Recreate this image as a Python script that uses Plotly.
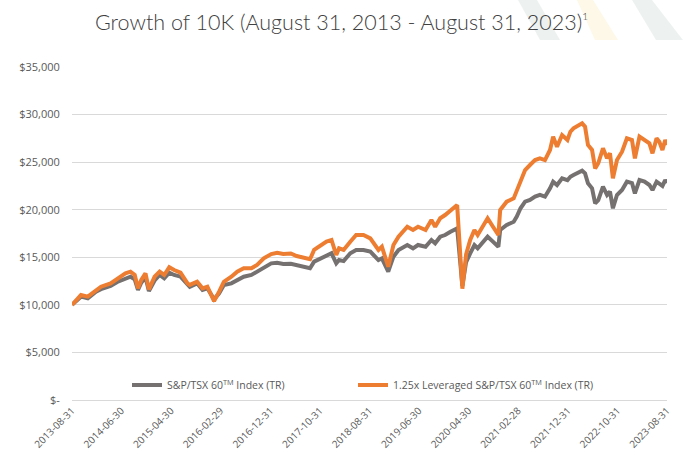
import plotly.graph_objects as go

# ---- data ----
dates = [
    "2013-08-31", "2013-10-25", "2013-12-06", "2014-01-25", "2014-02-25", "2014-04-25",
    "2014-06-05", "2014-07-25", "2014-08-25", "2014-09-20", "2014-10-10", "2014-10-30",
    "2014-11-25", "2014-12-16", "2015-01-20", "2015-02-20", "2015-03-20", "2015-04-20",
    "2015-05-20", "2015-06-28", "2015-08-10", "2015-08-24", "2015-10-08", "2015-11-10",
    "2015-12-10", "2016-01-20", "2016-02-20", "2016-03-20", "2016-05-05", "2016-06-10",
    "2016-07-20", "2016-09-05", "2016-10-10", "2016-11-20", "2017-01-05", "2017-02-10",
    "2017-03-20", "2017-05-05", "2017-06-10", "2017-07-25", "2017-08-31", "2017-09-25",
    "2017-11-05", "2017-12-10", "2018-01-10", "2018-02-08", "2018-02-25", "2018-03-25",
    "2018-05-05", "2018-06-10", "2018-07-25", "2018-09-05", "2018-10-25", "2018-11-15",
    "2018-12-24", "2019-01-25", "2019-02-25", "2019-04-20", "2019-05-25", "2019-06-25",
    "2019-08-10", "2019-09-15", "2019-10-08", "2019-11-08", "2019-12-08", "2020-01-10",
    "2020-02-20", "2020-03-23", "2020-04-15", "2020-05-10", "2020-06-05", "2020-06-25",
    "2020-08-25", "2020-09-20", "2020-10-30", "2020-11-10", "2020-12-20", "2021-02-01",
    "2021-02-20", "2021-03-15", "2021-04-12", "2021-05-12", "2021-06-12", "2021-07-12",
    "2021-08-12", "2021-09-12", "2021-10-01", "2021-10-25", "2021-11-25", "2021-12-28",
    "2022-01-15", "2022-02-03", "2022-03-28", "2022-04-15", "2022-05-03", "2022-05-28",
    "2022-06-16", "2022-07-05", "2022-08-03", "2022-08-28", "2022-09-15", "2022-10-03",
    "2022-10-28", "2022-11-28", "2022-12-28", "2023-01-28", "2023-02-15", "2023-03-15",
    "2023-04-15", "2023-05-15", "2023-06-03", "2023-06-28", "2023-07-15", "2023-08-03",
    "2023-08-20", "2023-08-31",
]

index_tr = [
    10000, 10860, 10680, 11390, 11650, 12000,
    12400, 12790, 12960, 12680, 11560, 12330,
    12900, 11460, 12560, 13140, 12790, 13380,
    13140, 12960, 12090, 11900, 12260, 11560,
    11740, 10580, 11210, 12090, 12260, 12610,
    12960, 13140, 13490, 14010, 14360, 14430,
    14290, 14320, 14150, 14010, 13840, 14540,
    14890, 15240, 15420, 14360, 14710, 14600,
    15420, 15770, 15770, 15590, 14710, 14890,
    13490, 15060, 15770, 16290, 15940, 16290,
    16110, 16820, 16470, 17160, 17340, 17690,
    18040, 12000, 14500, 15420, 16290, 15950,
    17160, 16750, 16110, 17870, 18390, 18740,
    19270, 20150, 20840, 21020, 21370, 21550,
    21370, 22250, 22950, 22600, 23300, 23100,
    23470, 23650, 24100, 23820, 22770, 22250,
    20670, 21000, 22420, 21550, 21900, 20150,
    21550, 22070, 22950, 22800, 21720, 23120,
    22950, 22600, 22070, 22950, 22770, 22500,
    23120, 22800,
]

leveraged_tr = [
    10000, 11030, 10860, 11560, 11910, 12260,
    12680, 13310, 13490, 13140, 11740, 12610,
    13310, 11630, 12960, 13490, 13140, 13950,
    13660, 13380, 12260, 12100, 12430, 11740,
    11910, 10400, 11390, 12430, 12960, 13490,
    13840, 13840, 14190, 14890, 15340, 15480,
    15340, 15400, 15130, 15000, 14790, 15770,
    16290, 16640, 16820, 15240, 15940, 15770,
    16640, 17340, 17340, 16990, 15770, 16110,
    14010, 16290, 17160, 18210, 17870, 18210,
    17870, 18920, 18210, 19100, 19440, 19970,
    20490, 11700, 15300, 16820, 17870, 17340,
    19100, 18390, 17340, 19970, 20840, 21190,
    22070, 23120, 24170, 24700, 25220, 25400,
    25220, 26280, 27680, 26620, 27850, 27330,
    28200, 28550, 29080, 28730, 26800, 26280,
    24350, 24880, 26450, 25400, 25930, 23300,
    25220, 26100, 27500, 27330, 25400, 27680,
    27330, 26980, 25930, 27500, 27150, 26280,
    27330, 26800,
]

tick_dates = [
    "2013-08-31", "2014-06-30", "2015-04-30", "2016-02-29", "2016-12-31",
    "2017-10-31", "2018-08-31", "2019-06-30", "2020-04-30", "2021-02-28",
    "2021-12-31", "2022-10-31", "2023-08-31",
]
y_tick_values = [0, 5000, 10000, 15000, 20000, 25000, 30000, 35000]
y_tick_labels = ["$-", "$5,000", "$10,000", "$15,000", "$20,000", "$25,000", "$30,000", "$35,000"]

series_names = [
    "S&P/TSX 60<sup>TM</sup> Index (TR)",
    "1.25x Leveraged S&P/TSX 60<sup>TM</sup> Index (TR)",
]
title_text = ("Growth of 10K (August 31, 2013 - August 31, 2023)"
              "<sup><span style='font-size:10px'>1</span></sup>")

GRAY = "#767171"
ORANGE = "#ED7D31"
TXT = "#595959"
FONT = "Open Sans, Noto Sans, sans-serif"

fig = go.Figure()
fig.add_trace(go.Scatter(x=dates, y=index_tr, mode="lines", name=series_names[0],
                         line=dict(color=GRAY, width=4), legend="legend"))
fig.add_trace(go.Scatter(x=dates, y=leveraged_tr, mode="lines", name=series_names[1],
                         line=dict(color=ORANGE, width=4), legend="legend2"))

# faint decorative swooshes in the top-right corner (pixel -> paper conversion)
L, R, T, B = 72, 667, 67, 400
def px(x):
    return (x - L) / (R - L)
def py(y):
    return (B - y) / (B - T)
bands = [
    ([(518, 0), (537, 0), (560, 40), (540, 40)], "#edf2f1"),
    ([(577, 0), (593, 0), (618, 40), (595, 40)], "#fef8e8"),
    ([(632, 0), (652, 0), (683, 40), (656, 40)], "#edf2f1"),
]
shapes = []
for pts, col in bands:
    path = "M " + " L ".join(f"{px(x):.4f},{py(y):.4f}" for x, y in pts) + " Z"
    shapes.append(dict(type="path", xref="paper", yref="paper", path=path,
                       fillcolor=col, line=dict(width=0), layer="below"))

legend_common = dict(orientation="h", xanchor="left", y=py(385), yanchor="middle",
                     bgcolor="rgba(0,0,0,0)", font=dict(size=10.5, color=TXT),
                     itemwidth=30)

fig.update_layout(
    width=683, height=460,
    margin=dict(l=L, r=683 - R, t=T, b=460 - B, autoexpand=False),
    paper_bgcolor="white", plot_bgcolor="white",
    font=dict(family=FONT, color=TXT),
    title=dict(text=title_text, x=0.5, xanchor="center", y=1 - 22 / 460, yanchor="middle",
               font=dict(family="Lato, Open Sans, sans-serif", size=21.5, color="#404040",
                         weight=300)),
    showlegend=True,
    legend=dict(x=px(127), **legend_common),
    legend2=dict(x=px(353), **legend_common),
    shapes=shapes,
    xaxis=dict(type="date", range=["2013-08-31", "2023-08-31"], automargin=False,
               tickvals=tick_dates, ticktext=tick_dates, tickangle=-45,
               showgrid=False, zeroline=False, showline=True, linecolor="#d9d9d9",
               linewidth=1, ticks="", tickfont=dict(size=10, color=TXT)),
    yaxis=dict(range=[0, 35000], tickvals=y_tick_values, ticktext=y_tick_labels,
               automargin=False,
               showgrid=True, gridcolor="#d9d9d9", gridwidth=1, zeroline=False,
               showline=False, ticks="outside", ticklen=8, tickcolor="rgba(0,0,0,0)",
               ticklabelstandoff=1,
               tickfont=dict(size=11, color=TXT)),
)

fig.write_html("out.html", config={"displayModeBar": False},
               post_script="document.body.style.margin='0px';")
